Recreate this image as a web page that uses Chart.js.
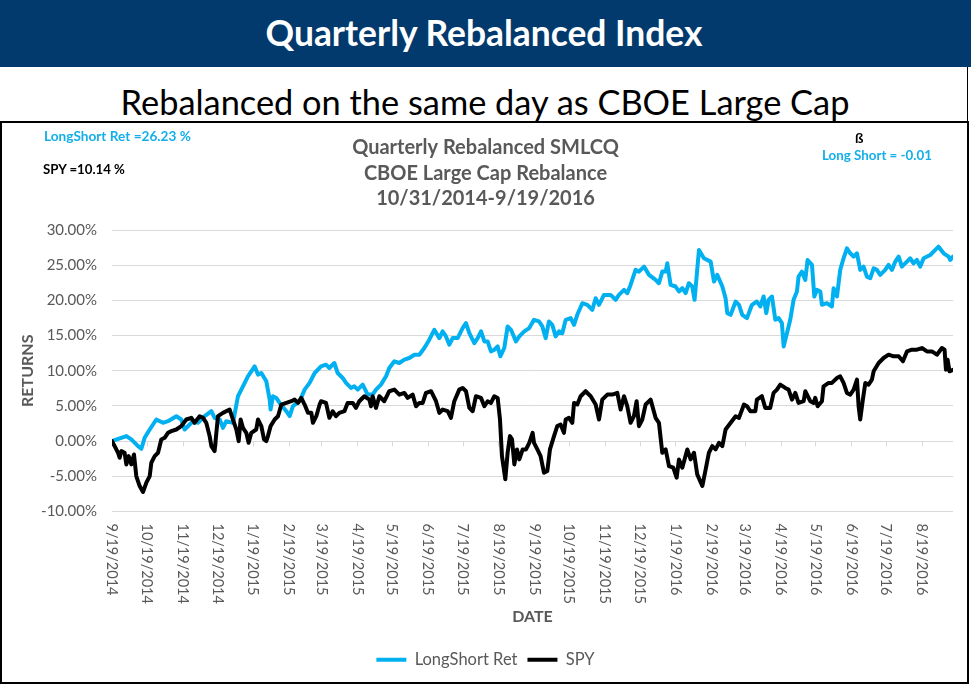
<!DOCTYPE html>
<html><head><meta charset="utf-8">
<script src="https://cdn.jsdelivr.net/npm/chart.js@4.4.1/dist/chart.umd.min.js"></script>
<style>
html,body{margin:0;padding:0;background:#fff;}
body{width:971px;height:686px;position:relative;overflow:hidden;font-family:Lato,"Open Sans",sans-serif;}
#band{position:absolute;left:0;top:0;width:971px;height:67px;background:#023a6e;}
.t{position:absolute;white-space:nowrap;line-height:1;transform:translate(-50%,-50%);}
.a{position:absolute;white-space:nowrap;line-height:1;transform:translateY(-50%);font-weight:700;font-size:14px;}
#rline{position:absolute;left:967px;top:67px;width:1px;height:55px;background:#000;}
#box{position:absolute;left:0;top:121px;width:965px;height:559px;border:2px solid #000;}
canvas{display:block;}
</style></head>
<body>
<div id="band"></div>
<div class="t" style="left:484px;top:33px;color:#fff;font-weight:700;font-size:32px" data-w="437">Quarterly Rebalanced Index</div>
<div class="t" style="left:485px;top:102px;color:#000;font-size:36px" data-w="729">Rebalanced on the same day as CBOE Large Cap</div>
<div id="rline"></div>
<div id="box"><canvas id="c" width="965" height="559"></canvas></div>
<div class="a" style="left:44px;top:137px;color:#12afe8" data-w="147">LongShort Ret =26.23 %</div>
<div class="a" style="left:43px;top:170px;color:#000" data-w="82">SPY =10.14 %</div>
<div class="a" style="left:855px;top:138px;color:#000">ß</div>
<div class="a" style="left:822px;top:156px;color:#12afe8" data-w="110">Long Short = -0.01</div>
<script>
// x tick labels (monthly)
const tickLabels = ['9/19/2014','10/19/2014','11/19/2014','12/19/2014','1/19/2015','2/19/2015','3/19/2015','4/19/2015','5/19/2015','6/19/2015','7/19/2015','8/19/2015','9/19/2015','10/19/2015','11/19/2015','12/19/2015','1/19/2016','2/19/2016','3/19/2016','4/19/2016','5/19/2016','6/19/2016','7/19/2016','8/19/2016'];
const startDate = '9/19/2014';
const lastDay = 727; // days after start date

// LongShort Ret: day offsets from 9/19/2014 and returns (%)
const lsDay = [0,2.3,12.4,16.7,22.5,25.4,28.2,32.6,38.3,44.1,48.4,55.6,59.9,62.8,67.1,70.0,74.3,80.1,85.9,88.7,93.1,95.9,98.8,104.6,108.9,111.8,117.5,123.3,126.2,129.1,133.4,136.3,137.1,139.1,142.0,144.9,150.7,153.6,156.4,162.2,166.5,170.8,175.2,
180.7,185.0,187.9,192.2,195.1,199.4,202.3,206.6,209.5,212.4,216.7,221.0,225.3,228.2,232.5,236.9,239.7,244.1,248.4,252.7,257.0,261.4,265.7,270.0,274.3,278.6,283.0,285.8,288.7,291.6,294.5,298.8,303.1,306.0,308.9,313.2,316.1,319.0,321.9,324.7,327.6,330.5,333.4,335.7,339.1,342.0,344.9,349.2,352.1,356.4,360.7,
364.8,369.1,372.0,374.9,377.7,380.6,383.5,386.4,389.3,392.2,396.5,399.4,402.2,406.6,410.9,415.2,418.1,421.0,425.3,431.0,435.4,438.2,442.6,445.4,448.3,452.6,455.5,459.9,464.2,469.9,472.8,475.7,478.6,480.0,482.9,487.2,490.1,493.0,495.9,498.7,501.6,503.6,507.4,511.7,517.5,520.4,523.2,527.6,530.4,531.9,534.8,539.1,542.0,544.8,
548.9,553.2,557.5,560.4,563.3,565.6,567.6,570.5,573.4,576.3,579.1,580.6,583.5,586.3,589.2,592.1,593.5,596.4,599.3,601.3,605.1,607.1,609.4,612.3,613.7,618.0,622.3,623.8,626.7,629.5,632.4,635.3,638.2,641.1,644.0,646.8,649.7,652.6,655.5,658.4,661.2,664.1,668.4,671.3,674.2,677.1,680.0,682.8,687.2,690.1,692.9,695.8,698.7,701.6,707.3,710.2,714.5,718.9,723.2,724.6,727];
const lsRet = [0.00,0.14,0.71,0.24,-0.71,-1.09,0.47,1.65,3.07,2.60,2.83,3.54,3.07,1.65,2.36,2.83,2.60,3.54,4.25,3.31,3.07,1.89,2.83,2.60,6.38,7.32,9.21,10.63,9.45,9.68,8.50,5.90,4.49,6.38,6.14,5.43,4.25,3.54,4.96,5.67,7.32,8.27,9.68,
10.63,10.86,10.39,11.10,9.68,8.97,8.27,7.56,7.79,7.32,8.03,6.61,6.61,7.32,8.03,9.21,10.39,11.34,11.10,11.57,11.81,12.28,12.28,13.23,14.41,15.82,14.64,15.59,14.88,13.70,14.64,14.64,16.06,16.77,15.35,13.93,14.64,15.59,14.17,14.17,12.75,12.99,13.46,12.05,13.23,16.30,15.82,14.17,14.88,15.59,16.06,
17.24,17.01,16.30,14.64,17.01,16.53,14.88,15.59,15.35,17.24,17.48,16.53,17.95,19.60,19.37,18.66,20.31,19.37,20.78,20.78,20.08,20.78,21.49,21.02,22.20,24.33,24.09,24.80,23.62,22.91,22.44,24.09,24.09,25.27,22.20,21.97,21.26,21.73,21.02,22.44,21.97,20.08,27.16,25.98,25.51,22.67,23.62,21.97,20.31,18.19,17.95,19.84,19.37,17.95,
17.48,19.37,19.84,19.13,20.55,18.19,20.08,20.55,17.24,17.48,16.77,13.46,15.35,17.24,20.08,21.26,23.38,24.09,22.91,25.74,25.04,20.55,21.49,21.26,19.37,19.60,19.13,21.73,20.55,24.33,25.98,27.40,26.69,26.22,26.69,24.33,24.80,23.38,23.15,24.56,24.33,23.62,24.33,25.04,24.33,25.51,26.22,24.80,25.51,25.98,25.27,25.74,24.80,25.98,26.45,26.93,27.63,26.69,26.22,25.74,26.23];

// SPY: day offsets and returns (%)
const spyDay = [0,2.3,5.2,6.6,8.1,10.9,12.4,14.4,16.7,19.0,21.0,23.9,26.8,29.7,32.6,34.0,36.9,39.8,42.6,45.5,48.4,51.3,55.6,59.9,64.2,68.6,71.4,75.8,78.7,81.5,84.4,85.9,88.7,90.2,91.6,95.9,101.7,104.6,107.5,109.5,111.2,113.2,116.1,118.1,120.4,124.7,126.2,129.1,131.4,133.4,134.8,137.1,140.6,143.5,146.4,150.7,155.0,157.9,160.8,163.6,166.5,169.4,172.3,173.7,176.6,179.5,
180.7,185.0,187.9,190.8,193.6,196.5,200.9,203.7,208.1,210.9,213.8,218.1,222.5,223.9,225.3,228.2,231.1,235.4,239.7,244.1,248.4,252.7,255.6,259.9,262.8,265.7,268.6,271.4,275.8,280.1,283.0,285.8,290.2,293.0,295.9,300.2,303.1,306.0,308.9,311.8,314.6,319.0,321.9,324.7,327.6,330.5,333.4,335.4,337.1,340.0,342.0,344.0,345.8,347.8,350.1,352.1,355.0,357.9,360.7,363.6,
364.8,367.7,370.5,373.4,376.3,378.6,382.1,384.9,387.8,390.7,392.2,395.0,397.9,399.4,402.2,405.1,409.4,413.8,418.1,421.0,423.8,428.2,432.5,436.8,439.7,442.6,445.4,448.3,451.2,453.5,455.5,458.4,461.3,465.6,469.9,472.8,475.7,478.6,481.5,485.2,488.1,490.1,493.0,497.3,500.2,503.1,505.9,510.3,513.2,516.0,518.9,521.8,524.7,527.6,530.4,534.8,539.1,542.0,546.3,
548.9,551.8,556.1,557.5,561.8,564.7,569.0,571.9,574.8,577.7,582.0,584.9,587.8,590.7,593.5,597.9,599.3,603.6,606.5,607.9,610.0,613.7,615.1,619.5,622.3,626.7,629.5,632.4,635.3,638.2,641.1,644.0,645.4,646.8,649.1,651.2,654.0,656.9,658.4,662.7,667.0,671.3,675.6,680.0,683.7,687.2,691.5,695.8,700.1,704.5,708.8,713.1,717.4,719.7,720.9,722.3,724.0,727];
const spyRet = [0.00,-0.71,-1.65,-2.36,-1.42,-1.65,-3.31,-2.13,-3.31,-1.89,-4.96,-6.38,-7.23,-5.90,-4.96,-3.07,-2.13,-1.65,0.24,0.47,1.18,1.42,1.65,2.13,3.07,3.31,2.60,3.54,3.31,2.60,0.71,-0.71,-1.42,1.18,3.54,4.02,4.49,3.07,1.65,0.00,3.07,1.89,1.18,-0.24,1.18,1.65,3.07,2.13,0.24,0.00,0.71,2.13,3.07,3.54,5.20,5.43,5.67,5.90,5.43,6.14,5.20,4.02,4.02,2.60,3.54,5.20,
5.67,5.43,3.31,4.25,3.54,4.02,4.25,5.43,5.43,4.72,5.67,6.38,5.90,4.96,6.38,4.72,6.38,5.67,7.09,7.32,6.61,6.85,6.14,6.61,4.96,5.43,5.43,6.85,7.09,5.67,4.02,4.49,4.25,3.31,5.67,7.32,7.56,7.09,4.72,4.25,6.38,6.14,4.96,5.67,5.43,6.38,6.14,3.07,-2.13,-5.43,-1.65,0.71,0.24,-3.31,-1.18,-2.60,-1.18,-1.18,-0.24,1.18,
-0.24,-1.18,-2.13,-4.49,-4.25,-1.18,0.71,2.13,2.36,1.18,3.07,3.31,2.60,5.43,5.20,6.38,7.09,6.38,5.20,3.07,5.90,6.61,6.61,6.85,4.49,6.38,4.96,2.60,3.54,5.67,2.13,3.07,5.20,5.90,3.31,2.60,-1.65,-1.18,-3.54,-3.78,-5.20,-2.60,-3.78,-1.18,-2.60,-1.65,-4.72,-6.38,-4.02,-1.65,-0.71,-1.18,-0.24,-0.71,1.65,2.60,3.54,3.31,5.20,
4.96,4.25,4.25,5.90,6.38,4.72,4.72,6.85,7.32,8.03,7.56,7.32,5.90,6.85,5.43,5.67,7.09,5.67,5.43,6.14,4.96,5.67,7.79,8.27,8.27,8.97,9.21,8.27,6.85,6.61,7.32,8.74,4.96,3.07,5.90,8.27,8.03,8.74,9.92,11.10,11.81,12.28,12.05,12.05,11.34,12.75,12.99,12.99,13.23,12.75,12.75,12.28,13.23,12.99,10.16,11.57,9.92,10.14];

const yMin = -10, yMax = 30, yStep = 5;

function toUTC(s){const [m,d,y]=s.split('/').map(Number);return Date.UTC(y,m-1,d);}
const START = toUTC(startDate);
const tickDays = tickLabels.map(s => Math.round((toUTC(s)-START)/864e5));

// fit header / annotation widths
document.querySelectorAll('[data-w]').forEach(el=>{
  const w = el.getBoundingClientRect().width;
  const fs = parseFloat(el.style.fontSize || getComputedStyle(el).fontSize);
  el.style.fontSize = (fs*parseFloat(el.dataset.w)/w).toFixed(2)+'px';
});

const GRAY = '#595959';
Chart.defaults.font.family = 'Lato, "Open Sans", sans-serif';

const axisDecor = {
  id:'axisDecor',
  beforeDatasetsDraw(chart){
    const {ctx, scales:{x,y}} = chart;
    const y0 = Math.round(y.getPixelForValue(0))+0.5;
    ctx.save(); ctx.strokeStyle='#d9d9d9'; ctx.lineWidth=1; ctx.beginPath();
    x.ticks.forEach(t=>{const px=Math.round(x.getPixelForValue(t.value))+0.5; ctx.moveTo(px,y0); ctx.lineTo(px,y0+5);});
    ctx.stroke(); ctx.restore();
  },
  afterDraw(chart){
    const {ctx, scales:{x}, chartArea} = chart;
    ctx.save(); ctx.fillStyle=GRAY; ctx.font='14.5px Lato, "Open Sans", sans-serif';
    ctx.textAlign='left'; ctx.textBaseline='middle';
    x.ticks.forEach((t,i)=>{
      const px=x.getPixelForValue(t.value);
      ctx.save(); ctx.translate(px, chartArea.bottom+12); ctx.rotate(Math.PI/2);
      ctx.fillText(tickLabels[i],0,0); ctx.restore();
    });
    ctx.restore();
  }
};

new Chart(document.getElementById('c'), {
  type:'line',
  data:{datasets:[
    {label:'LongShort Ret', data: lsDay.map((d,i)=>({x:d,y:lsRet[i]})), borderColor:'#00b0f0', backgroundColor:'#00b0f0', borderWidth:4, pointRadius:0, order:1, borderJoinStyle:'round', borderCapStyle:'round', tension:0},
    {label:'SPY', data: spyDay.map((d,i)=>({x:d,y:spyRet[i]})), borderColor:'#000000', backgroundColor:'#000000', borderWidth:4, pointRadius:0, order:0, borderJoinStyle:'round', borderCapStyle:'round', tension:0}
  ]},
  options:{
    responsive:false, animation:false, devicePixelRatio:1,
    layout:{padding:{left:16,right:14,top:0,bottom:4}},
    plugins:{
      title:{display:true, text:['Quarterly Rebalanced SMLCQ','CBOE Large Cap Rebalance','10/31/2014-9/19/2016'], color:GRAY,
        font:{size:20, weight:'bold', lineHeight:1.275}, padding:{top:12.25, bottom:18.25}},
      legend:{position:'bottom', labels:{usePointStyle:true, pointStyle:'line', pointStyleWidth:30, color:GRAY, font:{size:16.5}, padding:10,
        sort:(a,b)=>a.datasetIndex-b.datasetIndex}},
      tooltip:{enabled:false}
    },
    scales:{
      x:{type:'linear', min:0, max:lastDay,
        afterBuildTicks:s=>{s.ticks=tickDays.map(v=>({value:v}));},
        ticks:{display:false}, grid:{display:false}, border:{display:false},
        title:{display:true, text:'DATE', color:GRAY, font:{size:16, weight:'bold'}, padding:{top:0, bottom:15.4}},
        afterFit:s=>{s.height=130;}},
      y:{min:yMin, max:yMax,
        ticks:{stepSize:yStep, callback:v=>v.toFixed(2)+'%', color:GRAY, font:{size:15}, padding:15},
        grid:{color:'#d9d9d9', drawTicks:false, lineWidth:1}, border:{display:false},
        title:{display:true, text:'RETURNS', color:GRAY, font:{size:16, weight:'bold'}, padding:{top:0.4, bottom:0}},
        afterFit:s=>{s.width=94;}}
    }
  },
  plugins:[axisDecor]
});
</script>
</body></html>
